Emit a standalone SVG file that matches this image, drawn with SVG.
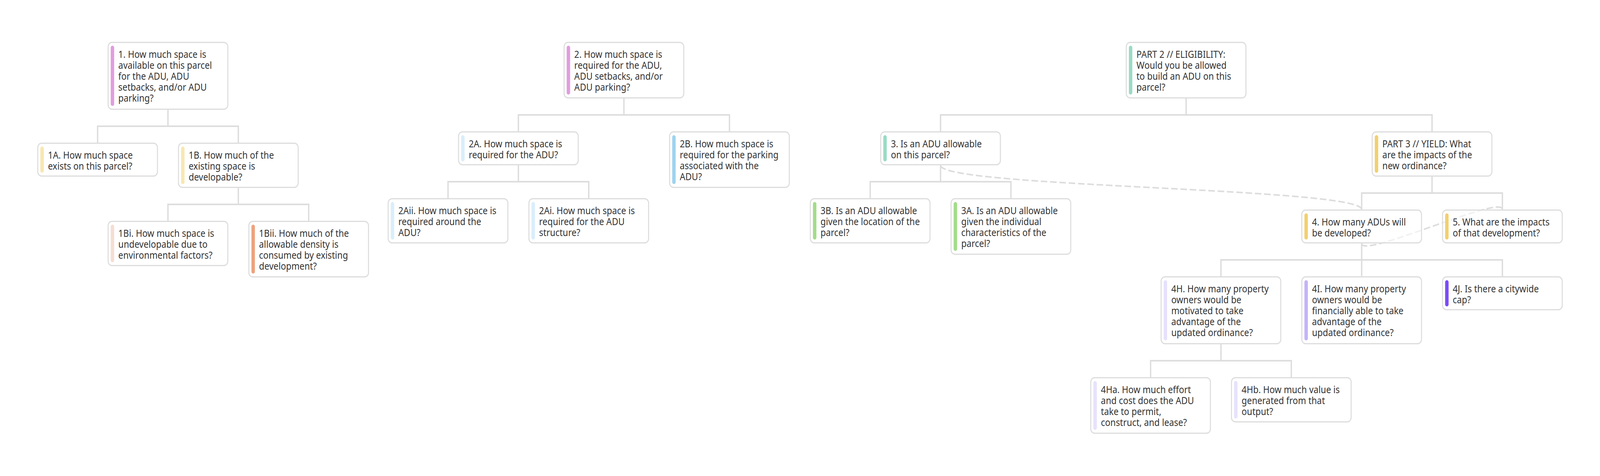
<svg xmlns="http://www.w3.org/2000/svg" width="4639" height="1218" viewBox="0 0 4639 1218" preserveAspectRatio="none">
<style>
svg{width:100vw;height:100vh}
.bg{fill:#ffffff}
.box{fill:#ffffff;fill-opacity:0.6;stroke:#dddddd;stroke-width:3}
.t{font-family:"Noto Sans","Open Sans","DejaVu Sans",sans-serif;font-size:25.3px;fill:#333333}
.link{fill:none;stroke:#dddddd;stroke-width:4}
.dash{fill:none;stroke:#dddddd;stroke-width:4;stroke-dasharray:19 8}
.pink{fill:#e19ce0}.pyel{fill:#f8e7b1}.peach{fill:#f6ddd2}.salmon{fill:#eca37d}
.pblue{fill:#d9eefa}.lblue{fill:#9ed3f0}.mint{fill:#9adbc4}.green{fill:#a3dc8b}
.yel{fill:#f2d06f}.plav{fill:#e7e2fc}.lav{fill:#c4b3f8}.purple{fill:#7a4cf8}
</style>
<rect class="bg" x="0" y="0" width="4639" height="1218"/>
<g id="connectors">
<path class="link" d="M487,281V323H283V365M487,323H691V365"/>
<path class="link" d="M691,481V523H487V565M691,523H895V565"/>
<path class="link" d="M1809,252V294H1503V336M1809,294H2115V336"/>
<path class="link" d="M1503,423V465H1299V507M1503,465H1707V507"/>
<path class="link" d="M3439,252V294H2727V336M3439,294H4152V336"/>
<path class="link" d="M2727,423V465H2523V507M2727,465H2931V507"/>
<path class="link" d="M4152,452V494H3948V536M4152,494H4356V536"/>
<path class="link" d="M3948,623V665H3540V707M3948,665V707M3948,665H4356V707"/>
<path class="link" d="M3540,881V923H3336V965M3540,923H3744V965"/>
<path class="dash" d="M2727,423C2727,480 3948,480 3948,536"/>
<path class="dash" d="M3948,623C3948,663 4356,496 4356,536"/>
</g>
<g id="n1"><rect class="box" x="313.5" y="108.5" width="347" height="171" rx="11"/><rect class="pink" x="321" y="117" width="10" height="154" rx="5"/>
<text class="t" x="343" y="148"><tspan x="343">1. How much space is</tspan><tspan x="343" dy="28">available on this parcel</tspan><tspan x="343" dy="28">for the ADU, ADU</tspan><tspan x="343" dy="28">setbacks, and/or ADU</tspan><tspan x="343" dy="28">parking?</tspan></text></g>
<g id="n1A"><rect class="box" x="109.5" y="366.5" width="347" height="84" rx="11"/><rect class="pyel" x="117" y="375" width="10" height="67" rx="5"/>
<text class="t" x="139" y="406"><tspan x="139">1A. How much space</tspan><tspan x="139" dy="28">exists on this parcel?</tspan></text></g>
<g id="n1B"><rect class="box" x="517.5" y="366.5" width="347" height="113" rx="11"/><rect class="pyel" x="525" y="375" width="10" height="96" rx="5"/>
<text class="t" x="547" y="406"><tspan x="547">1B. How much of the</tspan><tspan x="547" dy="28">existing space is</tspan><tspan x="547" dy="28">developable?</tspan></text></g>
<g id="n1Bi"><rect class="box" x="313.5" y="566.5" width="347" height="113" rx="11"/><rect class="peach" x="321" y="575" width="10" height="96" rx="5"/>
<text class="t" x="343" y="606"><tspan x="343">1Bi. How much space is</tspan><tspan x="343" dy="28">undevelopable due to</tspan><tspan x="343" dy="28">environmental factors?</tspan></text></g>
<g id="n1Bii"><rect class="box" x="721.5" y="566.5" width="347" height="142" rx="11"/><rect class="salmon" x="729" y="575" width="10" height="125" rx="5"/>
<text class="t" x="751" y="606"><tspan x="751">1Bii. How much of the</tspan><tspan x="751" dy="28">allowable density is</tspan><tspan x="751" dy="28">consumed by existing</tspan><tspan x="751" dy="28">development?</tspan></text></g>
<g id="n2"><rect class="box" x="1635.5" y="108.5" width="347" height="142" rx="11"/><rect class="pink" x="1643" y="117" width="10" height="125" rx="5"/>
<text class="t" x="1665" y="148"><tspan x="1665">2. How much space is</tspan><tspan x="1665" dy="28">required for the ADU,</tspan><tspan x="1665" dy="28">ADU setbacks, and/or</tspan><tspan x="1665" dy="28">ADU parking?</tspan></text></g>
<g id="n2A"><rect class="box" x="1329.5" y="337.5" width="347" height="84" rx="11"/><rect class="pblue" x="1337" y="346" width="10" height="67" rx="5"/>
<text class="t" x="1359" y="377"><tspan x="1359">2A. How much space is</tspan><tspan x="1359" dy="28">required for the ADU?</tspan></text></g>
<g id="n2B"><rect class="box" x="1941.5" y="337.5" width="347" height="142" rx="11"/><rect class="lblue" x="1949" y="346" width="10" height="125" rx="5"/>
<text class="t" x="1971" y="377"><tspan x="1971">2B. How much space is</tspan><tspan x="1971" dy="28">required for the parking</tspan><tspan x="1971" dy="28">associated with the</tspan><tspan x="1971" dy="28">ADU?</tspan></text></g>
<g id="n2Aii"><rect class="box" x="1125.5" y="508.5" width="347" height="113" rx="11"/><rect class="pblue" x="1133" y="517" width="10" height="96" rx="5"/>
<text class="t" x="1155" y="548"><tspan x="1155">2Aii. How much space is</tspan><tspan x="1155" dy="28">required around the</tspan><tspan x="1155" dy="28">ADU?</tspan></text></g>
<g id="n2Ai"><rect class="box" x="1533.5" y="508.5" width="347" height="113" rx="11"/><rect class="pblue" x="1541" y="517" width="10" height="96" rx="5"/>
<text class="t" x="1563" y="548"><tspan x="1563">2Ai. How much space is</tspan><tspan x="1563" dy="28">required for the ADU</tspan><tspan x="1563" dy="28">structure?</tspan></text></g>
<g id="part2"><rect class="box" x="3265.5" y="108.5" width="347" height="142" rx="11"/><rect class="mint" x="3273" y="117" width="10" height="125" rx="5"/>
<text class="t" x="3295" y="148"><tspan x="3295">PART 2 // ELIGIBILITY:</tspan><tspan x="3295" dy="28">Would you be allowed</tspan><tspan x="3295" dy="28">to build an ADU on this</tspan><tspan x="3295" dy="28">parcel?</tspan></text></g>
<g id="n3"><rect class="box" x="2553.5" y="337.5" width="347" height="84" rx="11"/><rect class="mint" x="2561" y="346" width="10" height="67" rx="5"/>
<text class="t" x="2583" y="377"><tspan x="2583">3. Is an ADU allowable</tspan><tspan x="2583" dy="28">on this parcel?</tspan></text></g>
<g id="n3B"><rect class="box" x="2349.5" y="508.5" width="347" height="113" rx="11"/><rect class="green" x="2357" y="517" width="10" height="96" rx="5"/>
<text class="t" x="2379" y="548"><tspan x="2379">3B. Is an ADU allowable</tspan><tspan x="2379" dy="28">given the location of the</tspan><tspan x="2379" dy="28">parcel?</tspan></text></g>
<g id="n3A"><rect class="box" x="2757.5" y="508.5" width="347" height="142" rx="11"/><rect class="green" x="2765" y="517" width="10" height="125" rx="5"/>
<text class="t" x="2787" y="548"><tspan x="2787">3A. Is an ADU allowable</tspan><tspan x="2787" dy="28">given the individual</tspan><tspan x="2787" dy="28">characteristics of the</tspan><tspan x="2787" dy="28">parcel?</tspan></text></g>
<g id="part3"><rect class="box" x="3978.5" y="337.5" width="347" height="113" rx="11"/><rect class="yel" x="3986" y="346" width="10" height="96" rx="5"/>
<text class="t" x="4008" y="377"><tspan x="4008">PART 3 // YIELD: What</tspan><tspan x="4008" dy="28">are the impacts of the</tspan><tspan x="4008" dy="28">new ordinance?</tspan></text></g>
<g id="n4"><rect class="box" x="3774.5" y="537.5" width="347" height="84" rx="11"/><rect class="yel" x="3782" y="546" width="10" height="67" rx="5"/>
<text class="t" x="3804" y="577"><tspan x="3804">4. How many ADUs will</tspan><tspan x="3804" dy="28">be developed?</tspan></text></g>
<g id="n5"><rect class="box" x="4182.5" y="537.5" width="347" height="84" rx="11"/><rect class="yel" x="4190" y="546" width="10" height="67" rx="5"/>
<text class="t" x="4212" y="577"><tspan x="4212">5. What are the impacts</tspan><tspan x="4212" dy="28">of that development?</tspan></text></g>
<g id="n4H"><rect class="box" x="3366.5" y="708.5" width="347" height="171" rx="11"/><rect class="plav" x="3374" y="717" width="10" height="154" rx="5"/>
<text class="t" x="3396" y="748"><tspan x="3396">4H. How many property</tspan><tspan x="3396" dy="28">owners would be</tspan><tspan x="3396" dy="28">motivated to take</tspan><tspan x="3396" dy="28">advantage of the</tspan><tspan x="3396" dy="28">updated ordinance?</tspan></text></g>
<g id="n4I"><rect class="box" x="3774.5" y="708.5" width="347" height="171" rx="11"/><rect class="lav" x="3782" y="717" width="10" height="154" rx="5"/>
<text class="t" x="3804" y="748"><tspan x="3804">4I. How many property</tspan><tspan x="3804" dy="28">owners would be</tspan><tspan x="3804" dy="28">financially able to take</tspan><tspan x="3804" dy="28">advantage of the</tspan><tspan x="3804" dy="28">updated ordinance?</tspan></text></g>
<g id="n4J"><rect class="box" x="4182.5" y="708.5" width="347" height="84" rx="11"/><rect class="purple" x="4190" y="717" width="10" height="67" rx="5"/>
<text class="t" x="4212" y="748"><tspan x="4212">4J. Is there a citywide</tspan><tspan x="4212" dy="28">cap?</tspan></text></g>
<g id="n4Ha"><rect class="box" x="3162.5" y="966.5" width="347" height="142" rx="11"/><rect class="plav" x="3170" y="975" width="10" height="125" rx="5"/>
<text class="t" x="3192" y="1006"><tspan x="3192">4Ha. How much effort</tspan><tspan x="3192" dy="28">and cost does the ADU</tspan><tspan x="3192" dy="28">take to permit,</tspan><tspan x="3192" dy="28">construct, and lease?</tspan></text></g>
<g id="n4Hb"><rect class="box" x="3570.5" y="966.5" width="347" height="113" rx="11"/><rect class="plav" x="3578" y="975" width="10" height="96" rx="5"/>
<text class="t" x="3600" y="1006"><tspan x="3600">4Hb. How much value is</tspan><tspan x="3600" dy="28">generated from that</tspan><tspan x="3600" dy="28">output?</tspan></text></g>
</svg>
